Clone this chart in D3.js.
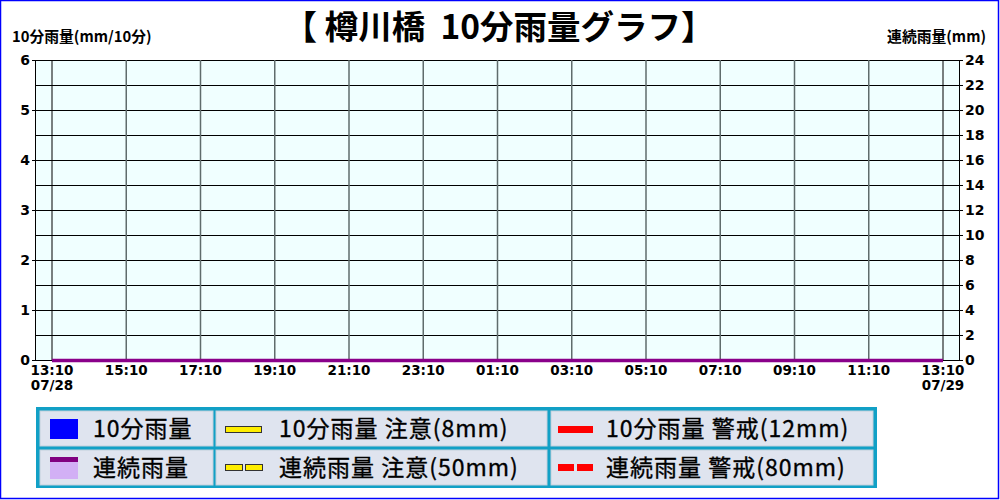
<!DOCTYPE html>
<html>
<head>
<meta charset="utf-8">
<script src="https://cdn.jsdelivr.net/npm/d3@7"></script>
<style>
  html, body { margin: 0; padding: 0; background: #fff; }
  svg { display: block; font-family: "Noto Sans CJK JP", "Noto Sans", sans-serif; }
</style>
</head>
<body>
<svg id="chart" width="1000" height="500"></svg>
<script>
// 10-minute observations, 07/28 13:10 -> 07/29 13:10
var startTime = "2023-07-28T13:10", endTime = "2023-07-29T13:10";
var rain10 = [0,
  0,0,0,0,0,0, 0,0,0,0,0,0, 0,0,0,0,0,0, 0,0,0,0,0,0,
  0,0,0,0,0,0, 0,0,0,0,0,0, 0,0,0,0,0,0, 0,0,0,0,0,0,
  0,0,0,0,0,0, 0,0,0,0,0,0, 0,0,0,0,0,0, 0,0,0,0,0,0,
  0,0,0,0,0,0, 0,0,0,0,0,0, 0,0,0,0,0,0, 0,0,0,0,0,0,
  0,0,0,0,0,0, 0,0,0,0,0,0, 0,0,0,0,0,0, 0,0,0,0,0,0,
  0,0,0,0,0,0, 0,0,0,0,0,0, 0,0,0,0,0,0, 0,0,0,0,0,0];
var rainCont = [0,
  0,0,0,0,0,0, 0,0,0,0,0,0, 0,0,0,0,0,0, 0,0,0,0,0,0,
  0,0,0,0,0,0, 0,0,0,0,0,0, 0,0,0,0,0,0, 0,0,0,0,0,0,
  0,0,0,0,0,0, 0,0,0,0,0,0, 0,0,0,0,0,0, 0,0,0,0,0,0,
  0,0,0,0,0,0, 0,0,0,0,0,0, 0,0,0,0,0,0, 0,0,0,0,0,0,
  0,0,0,0,0,0, 0,0,0,0,0,0, 0,0,0,0,0,0, 0,0,0,0,0,0,
  0,0,0,0,0,0, 0,0,0,0,0,0, 0,0,0,0,0,0, 0,0,0,0,0,0];
var xTickLabels = ["13:10","15:10","17:10","19:10","21:10","23:10","01:10","03:10","05:10","07:10","09:10","11:10","13:10"];
var dateLabels = ["07/28", "07/29"];
var leftTicks = [0, 1, 2, 3, 4, 5, 6];
var rightTicks = [0, 2, 4, 6, 8, 10, 12, 14, 16, 18, 20, 22, 24];
var legendItems = [
  ["10分雨量", "連続雨量"],
  ["10分雨量 注意(8mm)", "連続雨量 注意(50mm)"],
  ["10分雨量 警戒(12mm)", "連続雨量 警戒(80mm)"]
];

var svg = d3.select("#chart");
var plotL = 35, plotR = 959, plotT = 60, plotB = 360;

var t0 = new Date(startTime), t1 = new Date(endTime);
var times = rain10.map(function(d, i) { return d3.timeMinute.offset(t0, i * 10); });

var x = d3.scaleTime().domain([t0, t1]).range([52, 943]);
var yL = d3.scaleLinear().domain([0, 6]).range([plotB, plotT]);
var yR = d3.scaleLinear().domain([0, 24]).range([plotB, plotT]);

// outer frame
svg.append("rect").attr("x", 0.5).attr("y", 0.5).attr("width", 998).attr("height", 498)
  .attr("fill", "#fff").attr("stroke", "#0000ff").attr("stroke-width", 1.5);

// title
svg.append("text").attr("x", 499).attr("y", 39).attr("text-anchor", "middle")
  .attr("font-size", 33.5).attr("font-weight", "bold").attr("fill", "#000")
  .text("【 樽川橋\u00a0\u00a010分雨量グラフ】");

svg.append("text").attr("x", 12).attr("y", 42).attr("font-size", 14.8).attr("font-weight", "bold")
  .text("10分雨量(mm/10分)");
svg.append("text").attr("x", 986).attr("y", 42).attr("font-size", 14.8).attr("font-weight", "bold")
  .attr("text-anchor", "end").text("連続雨量(mm)");

// plot background
svg.append("rect").attr("x", plotL).attr("y", plotT).attr("width", plotR - plotL).attr("height", plotB - plotT)
  .attr("fill", "#f0ffff");

// horizontal grid (every 2mm on right axis)
svg.append("g").selectAll("line").data(rightTicks).join("line")
  .attr("x1", plotL).attr("x2", plotR)
  .attr("y1", function(d) { return Math.round(yR(d)) + 0.5; })
  .attr("y2", function(d) { return Math.round(yR(d)) + 0.5; })
  .attr("stroke", "#000").attr("stroke-width", 1);

// vertical grid every 2 hours
var gridTimes = xTickLabels.map(function(d, i) { return d3.timeHour.offset(t0, i * 2); });
svg.append("g").selectAll("line").data(gridTimes).join("line")
  .attr("x1", function(d) { return x(d); }).attr("x2", function(d) { return x(d); })
  .attr("y1", plotT).attr("y2", plotB)
  .attr("stroke", function(d, i) { return (i == 0 || i == gridTimes.length - 1) ? "#000" : "#5f6c6c"; })
  .attr("stroke-width", function(d, i) { return (i == 0 || i == gridTimes.length - 1) ? 1 : 1.5; });

// left axis
var axL = svg.append("g").attr("transform", "translate(" + plotL + ",0)")
  .call(d3.axisLeft(yL).tickValues(leftTicks).tickSize(3).tickFormat(d3.format("d")));
axL.select(".domain").attr("stroke", "#000");
axL.selectAll("text").attr("font-size", 14).attr("font-weight", "bold").attr("fill", "#000")
  .attr("font-family", "'DejaVu Sans', sans-serif").attr("x", -5);

// right axis
var axR = svg.append("g").attr("transform", "translate(" + plotR + ",0)")
  .call(d3.axisRight(yR).tickValues(rightTicks).tickSize(4).tickFormat(d3.format("d")));
axR.select(".domain").attr("stroke", "#000");
axR.selectAll("text").attr("font-size", 14).attr("font-weight", "bold").attr("fill", "#000")
  .attr("font-family", "'DejaVu Sans', sans-serif").attr("x", 6);

// bottom axis line + tick labels
svg.append("line").attr("x1", plotL).attr("x2", plotR).attr("y1", plotB + 0.5).attr("y2", plotB + 0.5)
  .attr("stroke", "#000");
var xl = svg.append("g").attr("font-size", 13.5).attr("font-weight", "bold")
  .attr("font-family", "'DejaVu Sans', sans-serif");
xl.selectAll("text.t").data(gridTimes).join("text").attr("class", "t")
  .attr("x", function(d) { return x(d); }).attr("y", 375).attr("text-anchor", "middle")
  .text(function(d, i) { return xTickLabels[i]; });
xl.selectAll("text.dt").data([t0, t1]).join("text").attr("class", "dt")
  .attr("x", function(d) { return x(d); }).attr("y", 390).attr("text-anchor", "middle")
  .text(function(d, i) { return dateLabels[i]; });

// 10-minute bars
var bw = x(times[1]) - x(times[0]);
svg.append("g").selectAll("rect").data(rain10).join("rect")
  .attr("x", function(d, i) { return x(times[i]) - bw; })
  .attr("width", bw - 1)
  .attr("y", function(d) { return yL(d); })
  .attr("height", function(d) { return plotB - yL(d); })
  .attr("fill", "#0000ff");

// continuous rainfall area + line (drawn on top)
var area = d3.area().x(function(d, i) { return x(times[i]); }).y0(plotB).y1(function(d) { return yR(d); });
svg.append("path").datum(rainCont).attr("d", area).attr("fill", "#d2b0f5");
var line = d3.line().x(function(d, i) { return x(times[i]); }).y(function(d) { return yR(d) + 0.5; });
svg.append("path").datum(rainCont).attr("d", line).attr("fill", "none")
  .attr("stroke", "#8a008a").attr("stroke-width", 3.5);

// legend table
var teal = "#11a0c6", cellFill = "#dfe4ef";
svg.append("rect").attr("x", 36).attr("y", 407).attr("width", 841).attr("height", 81).attr("fill", teal);
var cols = [[40, 173], [216, 331], [551, 322]];
var rows = [[411, 35], [450, 35]];
var lg = svg.append("g");
cols.forEach(function(c, ci) {
  rows.forEach(function(r, ri) {
    lg.append("rect").attr("x", c[0]).attr("y", r[0]).attr("width", c[1]).attr("height", r[1])
      .attr("fill", cellFill).attr("stroke", "#c2d0dc").attr("stroke-width", 1);
    lg.append("text").attr("x", ci == 0 ? 93 : (ci == 1 ? 279 : 606)).attr("y", r[0] + 26)
      .attr("font-size", 23).attr("letter-spacing", 1).attr("fill", "#000")
      .attr("stroke", "#000").attr("stroke-width", 0.35)
      .text(legendItems[ci][ri]);
  });
});
// icons
lg.append("rect").attr("x", 50).attr("y", 419).attr("width", 28).attr("height", 20).attr("fill", "#0000ff");
lg.append("rect").attr("x", 50).attr("y", 457).attr("width", 28).attr("height", 22).attr("fill", "#d2b0f5");
lg.append("rect").attr("x", 50).attr("y", 457).attr("width", 28).attr("height", 5).attr("fill", "#800080");
lg.append("rect").attr("x", 225.5).attr("y", 426.5).attr("width", 36).attr("height", 6)
  .attr("fill", "#ffee00").attr("stroke", "#333").attr("stroke-width", 1);
lg.append("rect").attr("x", 225.5).attr("y", 464.5).attr("width", 17).attr("height", 6)
  .attr("fill", "#ffee00").attr("stroke", "#333").attr("stroke-width", 1);
lg.append("rect").attr("x", 245.5).attr("y", 464.5).attr("width", 17).attr("height", 6)
  .attr("fill", "#ffee00").attr("stroke", "#333").attr("stroke-width", 1);
lg.append("rect").attr("x", 558).attr("y", 426).attr("width", 35).attr("height", 7).attr("fill", "#ff0000");
lg.append("rect").attr("x", 558).attr("y", 464).attr("width", 16).attr("height", 7).attr("fill", "#ff0000");
lg.append("rect").attr("x", 577).attr("y", 464).attr("width", 16).attr("height", 7).attr("fill", "#ff0000");
</script>
</body>
</html>
